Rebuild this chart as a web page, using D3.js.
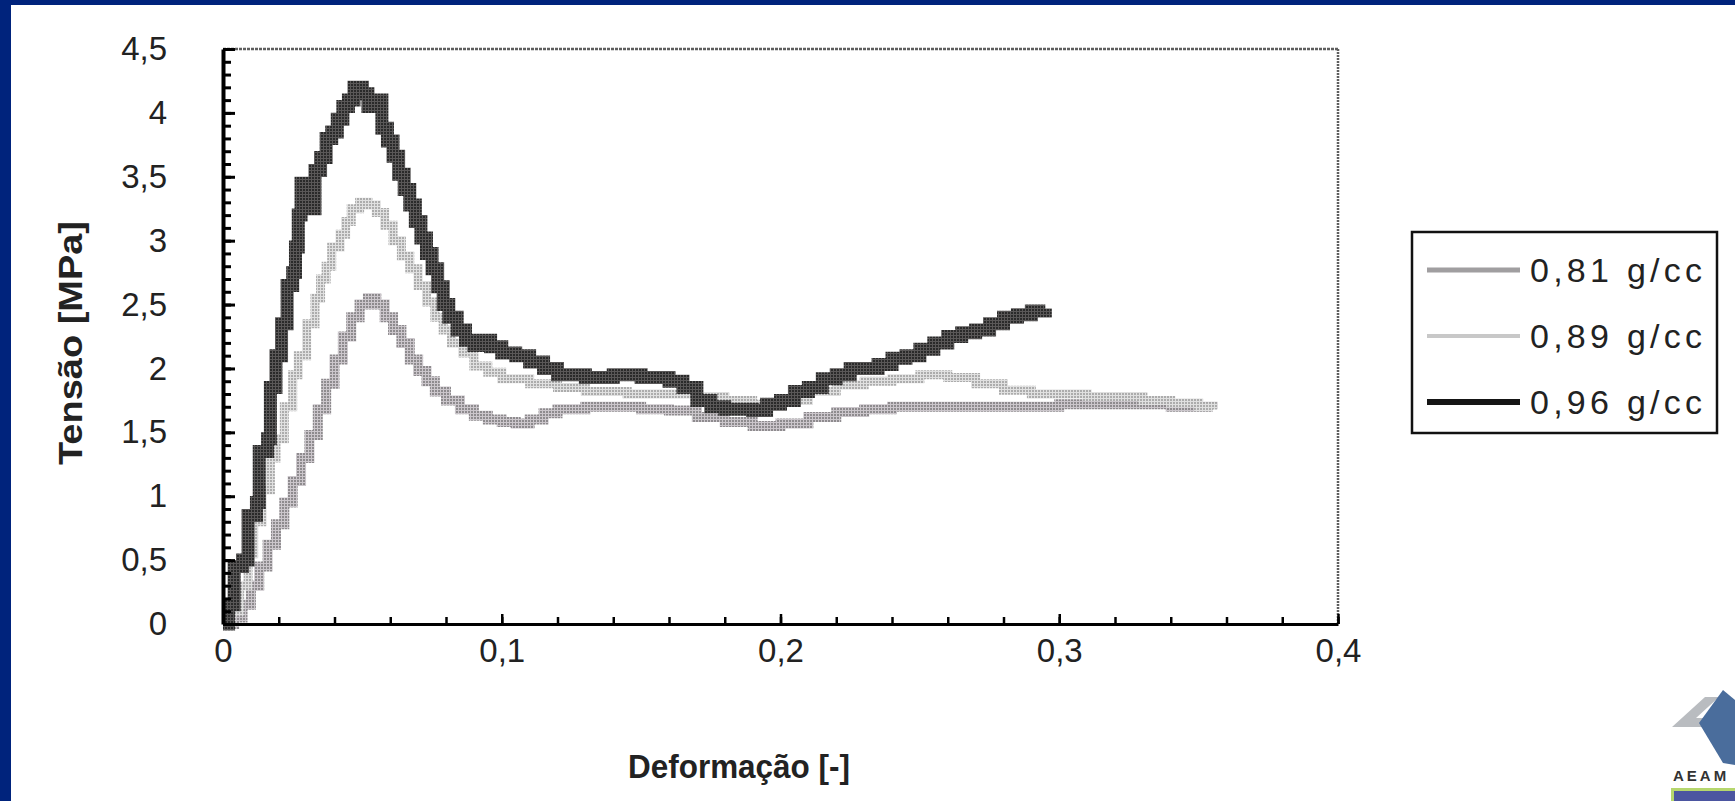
<!DOCTYPE html>
<html>
<head>
<meta charset="utf-8">
<script src="https://cdn.jsdelivr.net/npm/d3@7"></script>
<style>
  html, body { margin: 0; padding: 0; background: #00237c; }
  svg { display: block; }
</style>
</head>
<body>
<svg id="chart" width="1735" height="801"></svg>
<script>
// ---- data ----
const seriesNames = ["0,81 g/cc", "0,89 g/cc", "0,96 g/cc"];

const strain081 = [0,0.004,0.007,0.010,0.013,0.016,0.019,0.022,0.025,0.028,0.031,0.034,0.037,0.040,0.043,0.046,0.049,0.052,0.055,0.058,0.061,0.064,0.067,0.070,0.073,0.076,0.080,0.085,0.090,0.095,0.100,0.105,0.110,0.115,0.120,0.130,0.140,0.150,0.160,0.170,0.180,0.190,0.200,0.210,0.220,0.230,0.240,0.260,0.280,0.300,0.320,0.340,0.355];
const stress081 = [0,0.05,0.15,0.30,0.45,0.62,0.78,0.95,1.12,1.30,1.48,1.68,1.88,2.07,2.25,2.40,2.50,2.55,2.50,2.40,2.30,2.20,2.07,1.98,1.90,1.82,1.75,1.68,1.63,1.60,1.58,1.57,1.60,1.65,1.68,1.70,1.70,1.68,1.67,1.62,1.58,1.55,1.57,1.62,1.66,1.68,1.70,1.70,1.70,1.72,1.72,1.70,1.68];

const strain089 = [0,0.003,0.006,0.009,0.011,0.014,0.017,0.019,0.022,0.025,0.027,0.030,0.033,0.035,0.037,0.039,0.042,0.044,0.046,0.049,0.052,0.055,0.058,0.061,0.064,0.067,0.070,0.073,0.076,0.079,0.082,0.086,0.090,0.095,0.100,0.110,0.120,0.130,0.145,0.160,0.170,0.180,0.190,0.200,0.210,0.220,0.230,0.240,0.250,0.260,0.270,0.280,0.290,0.300,0.310,0.320,0.330,0.340,0.350,0.355];
const stress089 = [0,0.10,0.30,0.55,0.80,1.05,1.30,1.45,1.70,1.95,2.10,2.35,2.55,2.70,2.80,2.95,3.05,3.15,3.25,3.30,3.28,3.22,3.12,3.00,2.88,2.78,2.65,2.52,2.40,2.30,2.20,2.12,2.02,1.97,1.92,1.88,1.85,1.82,1.80,1.80,1.78,1.75,1.72,1.75,1.82,1.87,1.90,1.92,1.95,1.93,1.88,1.83,1.80,1.80,1.78,1.78,1.75,1.73,1.70,1.68];

const strain096 = [0,0.002,0.004,0.007,0.009,0.012,0.013,0.016,0.017,0.019,0.021,0.023,0.025,0.026,0.027,0.028,0.029,0.031,0.033,0.035,0.037,0.039,0.041,0.043,0.045,0.047,0.050,0.052,0.054,0.057,0.059,0.061,0.063,0.065,0.067,0.069,0.071,0.073,0.075,0.077,0.079,0.081,0.084,0.087,0.090,0.093,0.096,0.100,0.105,0.110,0.115,0.120,0.130,0.140,0.150,0.160,0.165,0.170,0.175,0.180,0.190,0.195,0.200,0.205,0.210,0.215,0.220,0.225,0.235,0.240,0.245,0.250,0.255,0.260,0.265,0.270,0.275,0.280,0.285,0.290,0.295];
const stress096 = [0,0.15,0.45,0.50,0.85,0.95,1.35,1.45,1.85,2.10,2.35,2.65,2.75,2.95,3.20,3.45,3.30,3.25,3.55,3.65,3.80,3.85,3.95,4.05,4.10,4.20,4.15,4.05,4.10,3.88,3.78,3.66,3.52,3.40,3.28,3.15,3.02,2.90,2.78,2.64,2.50,2.40,2.30,2.22,2.18,2.22,2.17,2.12,2.10,2.05,2.00,1.95,1.93,1.95,1.93,1.90,1.85,1.75,1.70,1.68,1.67,1.72,1.75,1.82,1.85,1.92,1.95,2.00,2.03,2.08,2.10,2.15,2.20,2.25,2.28,2.30,2.35,2.40,2.42,2.45,2.47];

const yTickValues = [0,0.5,1,1.5,2,2.5,3,3.5,4,4.5];
const xTickValues = [0,0.1,0.2,0.3,0.4];
const xTitle = "Deformação [-]";
const yTitle = "Tensão [MPa]";

// ---- layout ----
const svg = d3.select("#chart");
const defs = svg.append("defs");
// halftone-like checker patterns mimicking the scanned print
function checker(id, a, b) {
  const p = defs.append("pattern").attr("id", id).attr("patternUnits", "userSpaceOnUse")
    .attr("width", 3).attr("height", 3);
  p.append("rect").attr("width", 3).attr("height", 3).attr("fill", b);
  p.append("rect").attr("width", 2).attr("height", 2).attr("fill", a);
}
checker("pat081", "#8e8b8e", "#cbc6cb");
checker("pat089", "#acacac", "#e0e0e0");
checker("pat096", "#2a2a2a", "#5a5858");
const seriesStrokes = ["url(#pat081)", "url(#pat089)", "url(#pat096)"];
const seriesWidths = [10, 9, 13];

svg.append("rect").attr("x", 11).attr("y", 5).attr("width", 1735 - 11).attr("height", 801 - 5).attr("fill", "#ffffff");

const x = d3.scaleLinear().domain([0, 0.4]).range([223, 1338]);
const y = d3.scaleLinear().domain([0, 4.5]).range([624, 49]);
const fmt = d => String(d).replace(".", ",");
const font = "'Liberation Sans', Arial, sans-serif";

// frame (top & right, grey dotted look)
svg.append("line").attr("x1", x(0)).attr("x2", x(0.4)).attr("y1", y(4.5)).attr("y2", y(4.5))
  .attr("stroke", "#5e5e5e").attr("stroke-width", 2.5).attr("stroke-dasharray", "3,1");
svg.append("line").attr("x1", x(0.4)).attr("x2", x(0.4)).attr("y1", y(4.5)).attr("y2", y(0))
  .attr("stroke", "#5e5e5e").attr("stroke-width", 2.5).attr("stroke-dasharray", "2,1");

// series
const series = [
  {xs: strain081, ys: stress081},
  {xs: strain089, ys: stress089},
  {xs: strain096, ys: stress096}
];
const line = d3.line().x(d => x(d[0])).y(d => y(d[1])).curve(d3.curveStepAfter);
series.forEach((s, i) => {
  const pts = s.xs.map((v, j) => [v, s.ys[j]]);
  svg.append("path").datum(pts).attr("d", line)
    .attr("fill", "none").attr("stroke", seriesStrokes[i])
    .attr("stroke-width", seriesWidths[i]).attr("stroke-linejoin", "miter");
});

// y axis: minor ticks
const yMinor = d3.range(0, 46).map(i => i / 10);
svg.append("g").attr("transform", `translate(${x(0)},0)`)
  .call(d3.axisLeft(y).tickValues(yMinor).tickSizeInner(-8).tickSizeOuter(0).tickFormat(""))
  .call(g => g.selectAll("line").attr("stroke", "#000").attr("stroke-width", 3))
  .call(g => g.select(".domain").remove());
// y axis: major ticks + labels
svg.append("g").attr("transform", `translate(${x(0)},0)`)
  .call(d3.axisLeft(y).tickValues(yTickValues).tickSizeInner(-12).tickSizeOuter(0).tickPadding(56).tickFormat(fmt))
  .call(g => g.selectAll("line").attr("stroke", "#000").attr("stroke-width", 3))
  .call(g => g.select(".domain").attr("stroke", "#000").attr("stroke-width", 4))
  .call(g => g.selectAll("text").attr("font-family", font).attr("font-size", 33).attr("fill", "#222"));

// x axis: minor ticks
const xMinor = d3.range(0, 21).map(i => i * 0.02);
svg.append("g").attr("transform", `translate(0,${y(0)})`)
  .call(d3.axisBottom(x).tickValues(xMinor).tickSizeInner(-7).tickSizeOuter(0).tickFormat(""))
  .call(g => g.selectAll("line").attr("stroke", "#000").attr("stroke-width", 2.5))
  .call(g => g.select(".domain").remove());
svg.append("g").attr("transform", `translate(0,${y(0)})`)
  .call(d3.axisBottom(x).tickValues(xTickValues).tickSizeInner(-10).tickSizeOuter(0).tickPadding(15).tickFormat(fmt))
  .call(g => g.selectAll("line").attr("stroke", "#000").attr("stroke-width", 2.5))
  .call(g => g.select(".domain").attr("stroke", "#000").attr("stroke-width", 3))
  .call(g => g.selectAll("text").attr("font-family", font).attr("font-size", 33).attr("fill", "#222"));

// axis titles
svg.append("text").attr("x", 739).attr("y", 778).attr("text-anchor", "middle")
  .attr("font-family", font).attr("font-weight", "bold").attr("font-size", 34).attr("fill", "#222")
  .attr("textLength", 222).attr("lengthAdjust", "spacingAndGlyphs").text(xTitle);
svg.append("text").attr("transform", "translate(82,343) rotate(-90)").attr("text-anchor", "middle")
  .attr("font-family", font).attr("font-weight", "bold").attr("font-size", 34).attr("fill", "#222")
  .attr("textLength", 244).attr("lengthAdjust", "spacingAndGlyphs").text(yTitle);

// legend
const lg = svg.append("g");
lg.append("rect").attr("x", 1412).attr("y", 232).attr("width", 305).attr("height", 201)
  .attr("fill", "#fff").attr("stroke", "#111").attr("stroke-width", 2.5);
const legendWidths = [5, 4, 6];
const legendColors = ["#a09ea0", "#c8c8c8", "#151515"];
seriesNames.forEach((name, i) => {
  const cy = 270 + i * 66;
  lg.append("line").attr("x1", 1427).attr("x2", 1520).attr("y1", cy).attr("y2", cy)
    .attr("stroke", legendColors[i]).attr("stroke-width", legendWidths[i]);
  lg.append("text").attr("x", 1530).attr("y", cy + 12)
    .attr("font-family", font).attr("font-size", 34).attr("fill", "#222")
    .attr("textLength", 172).attr("lengthAdjust", "spacing").text(name);
});

// logo (bottom right corner)
const logo = svg.append("g");
logo.append("polygon").attr("points", "1672,727 1705,697 1719,697 1696,718 1717,718 1717,727").attr("fill", "#b9bcc0");
logo.append("polygon").attr("points", "1723,690 1735,700 1735,765 1723,763 1699,723").attr("fill", "#4a6d9c");
logo.append("text").attr("x", 1673).attr("y", 781).attr("font-family", font).attr("font-weight", "bold")
  .attr("font-size", 15).attr("letter-spacing", 3).attr("fill", "#333").text("AEAM");
logo.append("rect").attr("x", 1672.5).attr("y", 789.5).attr("width", 70).attr("height", 20)
  .attr("fill", "#4b55a0").attr("stroke", "#b5d66d").attr("stroke-width", 3);
</script>
</body>
</html>
